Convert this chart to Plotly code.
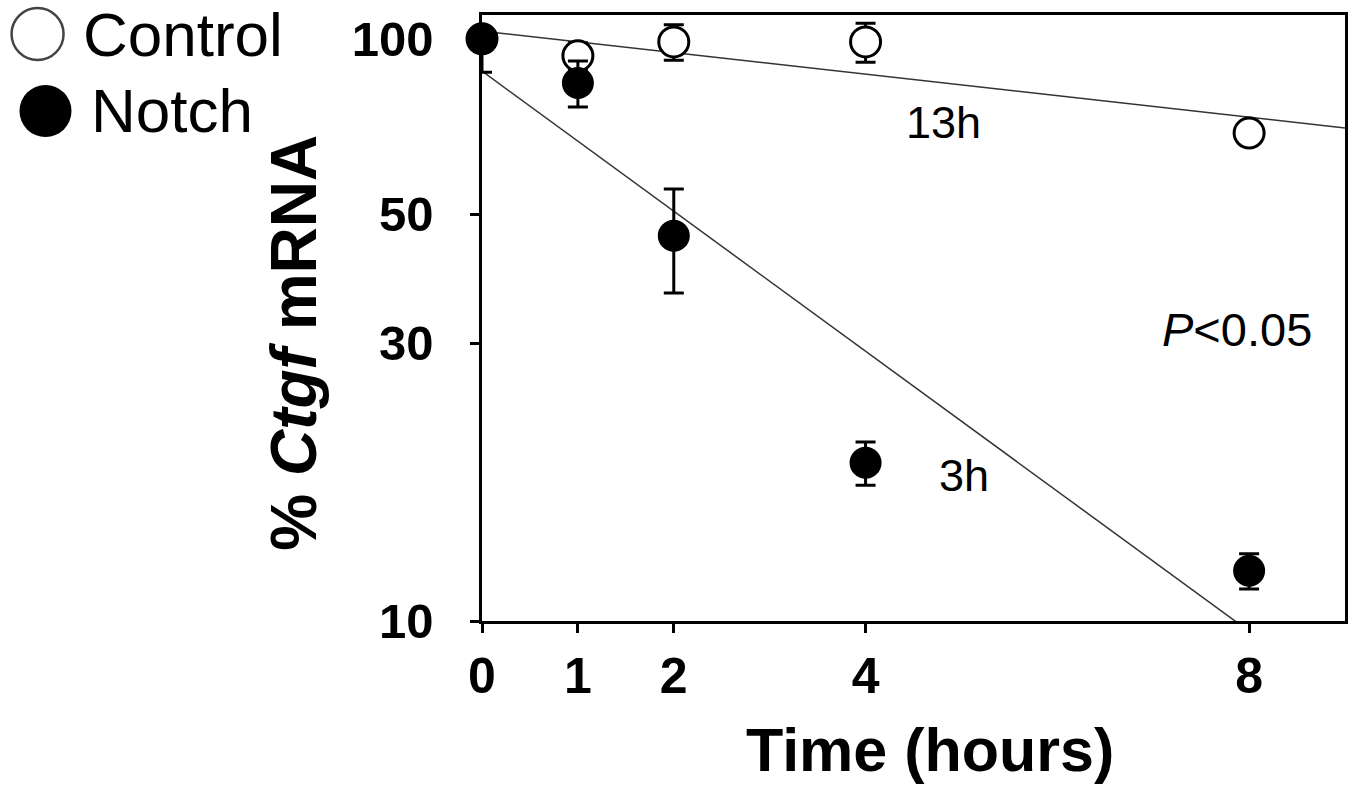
import plotly.graph_objects as go

# ---- data ----
times = [0, 1, 2, 4, 8]
control_pct = [100, 93.5, 98.8, 98.8, 68.9]
control_err = [2.0, 5.0, 6.9, 7.6, 1.0]
notch_pct = [100, 84.0, 45.9, 18.7, 12.2]
notch_err_plus = [0.0, 7.6, 9.3, 1.6, 0.85]
notch_err_minus = [12.4, 7.6, 9.3, 1.6, 0.85]

fit_times = [0, 9]
control_fit = [103.1, 70.3]
notch_fit = [88.0, 7.28]

x_ticks = [0, 1, 2, 4, 8]
y_ticks = [10, 30, 50, 100]

FONT = "Liberation Sans, Arial, sans-serif"

fig = go.Figure()

# fitted decay lines
fig.add_trace(go.Scatter(x=fit_times, y=control_fit, mode="lines",
                         line=dict(color="#333333", width=1.5),
                         hoverinfo="skip", showlegend=False))
fig.add_trace(go.Scatter(x=fit_times, y=notch_fit, mode="lines",
                         line=dict(color="#333333", width=1.5),
                         hoverinfo="skip", showlegend=False))

# Control (open circles)
fig.add_trace(go.Scatter(
    x=times, y=control_pct, mode="markers", name="Control",
    marker=dict(symbol="circle", size=30, color="white",
                line=dict(color="black", width=3)),
    error_y=dict(type="data", array=control_err, visible=True,
                 color="black", thickness=3, width=10),
    cliponaxis=False, showlegend=False))

# Notch (filled circles)
fig.add_trace(go.Scatter(
    x=times, y=notch_pct, mode="markers", name="Notch",
    marker=dict(symbol="circle", size=32, color="black",
                line=dict(color="black", width=0)),
    error_y=dict(type="data", symmetric=False, array=notch_err_plus,
                 arrayminus=notch_err_minus, visible=True,
                 color="black", thickness=3, width=10),
    cliponaxis=False, showlegend=False))

fig.update_xaxes(
    range=[0, 9], tickvals=x_ticks, ticktext=[str(t) for t in x_ticks],
    showline=True, linecolor="black", linewidth=3, mirror=True,
    ticks="outside", ticklen=9, tickwidth=2.5, tickcolor="black",
    tickfont=dict(family=FONT, size=50, color="black", weight="bold"),
    ticklabelstandoff=0,
    showgrid=False, zeroline=False)

fig.update_yaxes(
    type="log", range=[1, 2.041], tickvals=y_ticks,
    ticktext=[str(t) for t in y_ticks],
    showline=True, linecolor="black", linewidth=2.5, mirror=True,
    ticks="outside", ticklen=9, tickwidth=2.5, tickcolor="black",
    tickfont=dict(family=FONT, size=49, color="black", weight="bold"),
    ticklabelstandoff=27,
    showgrid=False, zeroline=False)

annotations = [
    dict(text="13h", xref="paper", yref="paper", x=0.5346, y=0.8218,
         xanchor="center", yanchor="middle", showarrow=False,
         font=dict(family=FONT, size=45, color="black")),
    dict(text="3h", xref="paper", yref="paper", x=0.5589, y=0.2393,
         xanchor="center", yanchor="middle", showarrow=False,
         font=dict(family=FONT, size=45, color="black")),
    dict(text="<i>P</i><0.05", xref="paper", yref="paper", x=0.8753, y=0.4802,
         xanchor="center", yanchor="middle", showarrow=False,
         font=dict(family=FONT, size=47, color="black")),
    dict(text="<b>% <i>Ctgf</i> mRNA</b>", xref="paper", yref="paper",
         x=-0.2182, y=0.4587, xanchor="center", yanchor="middle",
         textangle=-90, showarrow=False,
         font=dict(family=FONT, size=64, color="black")),
    dict(text="<b>Time (hours)</b>", xref="paper", yref="paper",
         x=0.5196, y=-0.213, xanchor="center", yanchor="middle",
         showarrow=False, font=dict(family=FONT, size=61, color="black")),
    dict(text="Control", xref="paper", yref="paper", x=-0.4642, y=0.9686,
         xanchor="left", yanchor="middle", showarrow=False,
         font=dict(family=FONT, size=62, color="black")),
    dict(text="Notch", xref="paper", yref="paper", x=-0.455, y=0.8416,
         xanchor="left", yanchor="middle", showarrow=False,
         font=dict(family=FONT, size=62, color="black")),
]

shapes = [
    dict(type="circle", xref="paper", yref="paper",
         xsizemode="pixel", ysizemode="pixel",
         xanchor=-0.515, yanchor=0.9686, x0=-26, x1=26, y0=-26, y1=26,
         line=dict(color="#444444", width=2.5), fillcolor="white"),
    dict(type="circle", xref="paper", yref="paper",
         xsizemode="pixel", ysizemode="pixel",
         xanchor=-0.5058, yanchor=0.8416, x0=-26, x1=26, y0=-26, y1=26,
         line=dict(color="black", width=0), fillcolor="black"),
]

fig.update_layout(
    width=1358, height=792, autosize=False,
    margin=dict(l=482, r=10, t=15, b=171, pad=0),
    paper_bgcolor="white", plot_bgcolor="white",
    annotations=annotations, shapes=shapes,
    showlegend=False,
)

fig.write_html("out.html",
               config={"displayModeBar": False},
               post_script="document.body.style.margin='0px';"
                           "document.body.style.overflow='hidden';")
